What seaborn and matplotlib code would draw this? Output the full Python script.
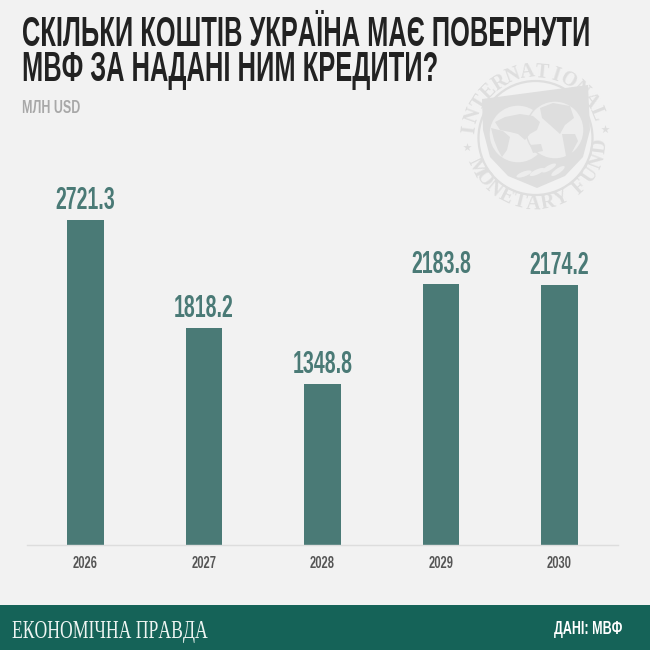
import numpy as np
import matplotlib
matplotlib.use("Agg")
import matplotlib.pyplot as plt
from matplotlib import font_manager as fm
from matplotlib.patches import Circle, Polygon, Rectangle, Ellipse
import seaborn as sns
from fontTools.ttLib import TTFont

years = ["2026", "2027", "2028", "2029", "2030"]
values = [2721.3, 1818.2, 1348.8, 2183.8, 2174.2]
title_lines = ["СКІЛЬКИ КОШТІВ УКРАЇНА МАЄ ПОВЕРНУТИ", "МВФ ЗА НАДАНІ НИМ КРЕДИТИ?"]
unit_label = "МЛН USD"
brand_label = "ЕКОНОМІЧНА ПРАВДА"
source_label = "ДАНІ: МВФ"

BG = "#f2f2f2"
BAR = "#4a7a76"
FOOT = "#156358"
WM = "#dedede"
WM_L = "#ededed"


def condensed(family, weight, factor, name):
    """Write a horizontally narrowed copy of an installed font and register it."""
    path = fm.findfont(fm.FontProperties(family=family, weight=weight))
    f = TTFont(path)
    for tag in ("kern", "GPOS"):
        if tag in f:
            del f[tag]
    glyf = f["glyf"]
    for g in f.getGlyphOrder():
        gl = glyf[g]
        if gl.isComposite():
            for c in gl.components:
                c.x = int(round(c.x * factor))
        elif gl.numberOfContours > 0:
            for i, (x, y) in enumerate(gl.coordinates):
                gl.coordinates[i] = (int(round(x * factor)), y)
        if gl.numberOfContours != 0:
            gl.recalcBounds(glyf)
        adv, lsb = f["hmtx"][g]
        f["hmtx"][g] = (int(round(adv * factor)), int(round(lsb * factor)))
    for rec in f["name"].names:
        if rec.nameID in (1, 3, 4, 6, 16):
            rec.string = name
        if rec.nameID in (2, 17):
            rec.string = "Regular"
    f["OS/2"].usWeightClass = 400
    f["head"].macStyle = 0
    out = name.replace(" ", "") + ".ttf"
    f.save(out)
    fm.fontManager.addfont(out)
    return name


sns.set_theme(style="white", rc={"figure.facecolor": BG, "axes.facecolor": "none"})
TITLE = condensed("Liberation Sans", "bold", 0.60, "ChartTitle")
NUM = condensed("Liberation Sans", "bold", 0.64, "ChartNum")
SERIF = condensed("Liberation Serif", "regular", 0.67, "ChartSerif")

fig = plt.figure(figsize=(6.5, 6.5), dpi=100, facecolor=BG)

# pixel-space layer for the title block, watermark and footer
bg = fig.add_axes([0, 0, 1, 1], zorder=0)
bg.set_xlim(0, 650)
bg.set_ylim(650, 0)
bg.axis("off")

bg.add_patch(Rectangle((0, 605), 650, 45, color=FOOT, lw=0))
bg.text(22, 45.5, title_lines[0], family=TITLE, fontsize=30.5, color="#222222", va="baseline")
bg.text(22, 81.5, title_lines[1], family=TITLE, fontsize=30.5, color="#222222", va="baseline")
bg.text(22, 113, unit_label, family=NUM, fontsize=14, color="#a8a8a8", va="baseline")
bg.text(12, 638, brand_label, family=SERIF, fontsize=19, color="#eef5f2", va="baseline")
bg.text(622, 634, source_label, family=NUM, fontsize=14, color="#ffffff", ha="right", va="baseline")

# watermark seal
cx, cy = 535.5, 138
bg.add_patch(Circle((cx, cy), 57, fc="none", ec=WM, lw=1.6))
bg.add_patch(Polygon([(482, 99), (588, 85), (590, 130), (583, 157), (565, 176), (537, 188),
                      (508, 176), (490, 157), (483, 130)], fc=WM, ec=WM, lw=0))
bg.add_patch(Circle((518, 134), 29, fc=WM_L, ec=WM, lw=1))
bg.add_patch(Circle((555, 130), 29, fc=WM_L, ec=WM, lw=1))
land = [
    [(495, 122), (505, 117), (520, 114), (533, 116), (540, 122), (537, 130), (530, 134),
     (525, 140), (518, 134), (510, 132), (500, 130)],
    [(491, 128), (503, 131), (510, 137), (507, 150), (502, 157), (498, 150), (494, 140)],
    [(540, 108), (553, 103), (570, 106), (574, 118), (565, 125), (560, 134), (550, 125), (542, 118)],
    [(562, 134), (575, 134), (578, 141), (570, 156), (566, 156), (564, 145)],
    [(530, 145), (541, 144), (543, 151), (533, 153)],
]
for pts in land:
    bg.add_patch(Polygon(pts, fc=WM, lw=0))
for (ex, ey, ang) in [(524, 174, -20), (537, 172, -25), (549, 168, -30), (558, 171, -35)]:
    bg.add_patch(Ellipse((ex, ey), 16, 5, angle=ang, fc=WM_L, lw=0))


def arc_text(s, a0, a1, r, flip=False):
    for ch, a in zip(s, np.linspace(a0, a1, len(s))):
        t = np.deg2rad(a)
        x, y = cx + r * np.cos(t), cy - r * np.sin(t)
        rot = a - 90 if not flip else a + 90
        bg.text(x, y, ch, family="Liberation Serif", weight="bold", fontsize=14.5, color=WM,
                rotation=rot, rotation_mode="anchor", ha="center", va="center")


arc_text("INTERNATIONAL", 173, 22, 66)
arc_text("MONETARY", 206, 293, 66, flip=True)
arc_text("FUND", 312, 353, 66, flip=True)
bg.scatter([467, 605], [147, 129], marker="*", s=40, color=WM, lw=0)

# chart
ax = fig.add_axes([27 / 650, 105 / 650, 591 / 650, 358 / 650], zorder=1)
sns.barplot(x=years, y=values, color=BAR, saturation=1, width=0.312, linewidth=0, ax=ax)
ax.set_xlim(-0.494, 4.494)
ax.set_ylim(0, 358 / 0.11943)
ax.set_xlabel("")
ax.set_ylabel("")
ax.set_yticks([])
for s in ("top", "left", "right"):
    ax.spines[s].set_visible(False)
ax.spines["bottom"].set_color("#dddddd")
ax.spines["bottom"].set_linewidth(1)
ax.tick_params(axis="x", length=0, pad=8, labelcolor="#555555", labelsize=12.5)
for lab in ax.get_xticklabels():
    lab.set_family(NUM)
ax.bar_label(ax.containers[0], labels=[f"{v:.1f}" for v in values], padding=3,
             family=NUM, fontsize=22, color=BAR)

fig.savefig("out.png", dpi=100, facecolor=BG)
